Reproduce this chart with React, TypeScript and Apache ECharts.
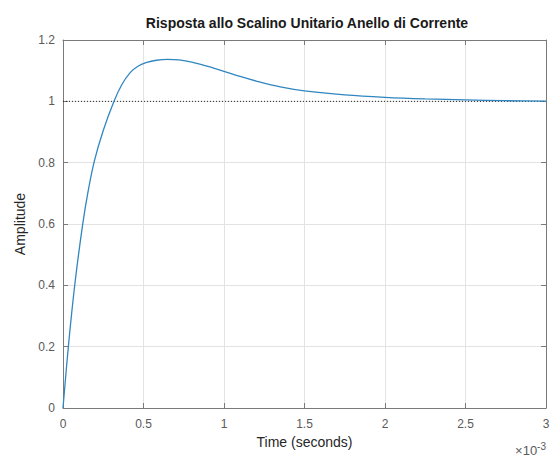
import React, { useEffect, useRef } from "react";
import * as echarts from "echarts";

const titleText = "Risposta allo Scalino Unitario Anello di Corrente";
const xTicks = [0, 0.5, 1, 1.5, 2, 2.5, 3];
const yTicks = [0, 0.2, 0.4, 0.6, 0.8, 1, 1.2];
// time in ms (axis scaled by 10^-3)
const timeMs = [0, 0.035, 0.075, 0.122, 0.155, 0.195, 0.25, 0.315, 0.365, 0.416, 0.468, 0.52, 0.58, 0.65, 0.72, 0.8, 0.9, 1.0, 1.1, 1.2, 1.35, 1.5, 1.75, 2.0, 2.25, 2.5, 2.75, 3.0];
const amplitude = [0, 0.21, 0.41, 0.598, 0.704, 0.806, 0.905, 0.998, 1.054, 1.093, 1.115, 1.127, 1.134, 1.137, 1.135, 1.128, 1.114, 1.098, 1.081, 1.066, 1.047, 1.034, 1.021, 1.013, 1.008, 1.005, 1.002, 1.001];
const finalValue = 1;

export default function App() {
  const ref = useRef<HTMLDivElement>(null);
  useEffect(() => {
    if (!ref.current) return;
    const chart = echarts.init(ref.current, undefined, { renderer: "svg" });
    const font = "Liberation Sans, Arial, sans-serif";
    const axisLineColor = "#7a7a7a";
    const labelColor = "#5a5a5a";
    chart.setOption({
      animation: false,
      backgroundColor: "#ffffff",
      title: {
        text: titleText,
        left: 302,
        top: 11,
        textAlign: "center",
        textStyle: { fontFamily: font, fontSize: 14, fontWeight: "bold", color: "#1a1a1a" },
      },
      grid: { left: 63, right: 14, top: 40, bottom: 53 },
      xAxis: [
        {
          type: "value",
          min: 0,
          max: 3,
          interval: 0.5,
          name: "Time (seconds)",
          nameLocation: "middle",
          nameGap: 24,
          nameTextStyle: { fontFamily: font, fontSize: 14, color: "#262626" },
          axisLine: { show: true, onZero: false, lineStyle: { color: axisLineColor, width: 1 } },
          axisTick: { show: true, inside: true, length: 5, lineStyle: { color: axisLineColor } },
          axisLabel: { fontFamily: font, fontSize: 12, color: labelColor, margin: 10 },
          splitLine: { show: true, lineStyle: { color: "#e3e3e3", width: 1 } },
          data: xTicks,
        },
        {
          type: "value",
          position: "top",
          min: 0,
          max: 3,
          interval: 0.5,
          axisLine: { show: true, onZero: false, lineStyle: { color: axisLineColor, width: 1 } },
          axisTick: { show: true, inside: true, length: 5, lineStyle: { color: axisLineColor } },
          axisLabel: { show: false },
          splitLine: { show: false },
        },
      ],
      yAxis: [
        {
          type: "value",
          min: 0,
          max: 1.2,
          interval: 0.2,
          name: "Amplitude",
          nameLocation: "middle",
          nameGap: 27,
          nameTextStyle: { fontFamily: font, fontSize: 14, color: "#262626" },
          axisLine: { show: true, onZero: false, lineStyle: { color: axisLineColor, width: 1 } },
          axisTick: { show: true, inside: true, length: 5, lineStyle: { color: axisLineColor } },
          axisLabel: { fontFamily: font, fontSize: 12, color: labelColor, margin: 8 },
          splitLine: { show: true, lineStyle: { color: "#e3e3e3", width: 1 } },
          data: yTicks,
        },
        {
          type: "value",
          position: "right",
          min: 0,
          max: 1.2,
          interval: 0.2,
          axisLine: { show: true, onZero: false, lineStyle: { color: axisLineColor, width: 1 } },
          axisTick: { show: true, inside: true, length: 5, lineStyle: { color: axisLineColor } },
          axisLabel: { show: false },
          splitLine: { show: false },
        },
      ],
      graphic: [
        {
          type: "text",
          right: 14,
          top: 441,
          style: {
            text: "×10{sup|-3}",
            fontFamily: font,
            fontSize: 13,
            fill: labelColor,
            rich: { sup: { fontSize: 10, verticalAlign: "top", padding: [0, 0, 8, 0], fill: labelColor, fontFamily: font } },
          },
        },
      ],
      series: [
        {
          type: "line",
          data: [[0, finalValue], [3, finalValue]],
          showSymbol: false,
          symbol: "none",
          lineStyle: { color: "#222222", width: 1, type: [1, 2] },
          silent: true,
          z: 1,
        },
        {
          type: "line",
          data: timeMs.map((t, i) => [t, amplitude[i]]),
          showSymbol: false,
          symbol: "none",
          smooth: 0.35,
          lineStyle: { color: "#2f86c0", width: 1.3 },
          z: 2,
        },
      ],
    });
    return () => chart.dispose();
  }, []);
  return <div ref={ref} style={{ position: "absolute", left: 0, top: 0, width: 560, height: 461 }} />;
}
